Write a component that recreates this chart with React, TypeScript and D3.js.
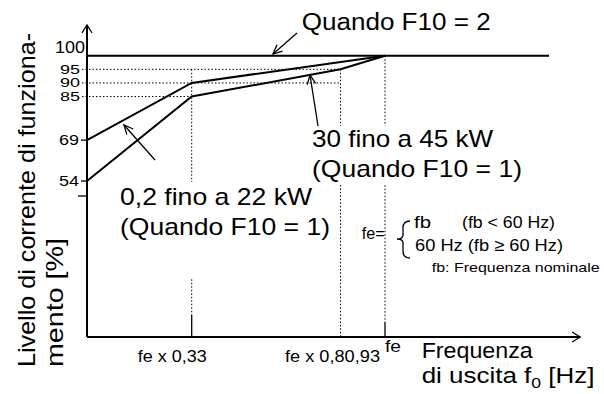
import React from "react";
import * as d3 from "d3";

// ---- data ----
// 0,2 fino a 22 kW (Quando F10 = 1)
const FREQ_SMALL = [0, 0.33, 1];
const LEVEL_SMALL = [69, 90, 100];
// 30 fino a 45 kW (Quando F10 = 1)
const FREQ_LARGE = [0, 0.33, 0.93, 1];
const LEVEL_LARGE = [54, 85, 95, 100];
// Quando F10 = 2
const FREQ_F10_2 = [0, 2];
const LEVEL_F10_2 = [100, 100];

const Y_TICKS = [100, 95, 90, 85, 69, 54];
const Y_EXTRA_TICK = 48.5;
const X_TICK_VALUES = [0.33, 0.93, 1];
const X_TICK_LABELS = ["fe x 0,33", "fe x 0,80,93", "fe"];

const W = 604;
const H = 394;
const FONT = "'Liberation Sans', Arial, Helvetica, sans-serif";

const x = d3.scaleLinear().domain([0, 0.33, 0.93, 1, 2]).range([87, 191.7, 340.5, 385, 549]);
const y = d3.scaleLinear().domain([54, 100]).range([181, 55.7]);
const AXIS_Y = 337;
const AXIS_TOP = 25;
const X_MAX = 2.19;

const line = d3
  .line<[number, number]>()
  .x((d) => x(d[0]))
  .y((d) => y(d[1]));

const zip = (a: number[], b: number[]) => a.map((v, i) => [v, b[i]] as [number, number]);

function Arrow({ x1, y1, x2, y2, head = 10 }: { x1: number; y1: number; x2: number; y2: number; head?: number }) {
  const ang = Math.atan2(y2 - y1, x2 - x1);
  const a = (25 * Math.PI) / 180;
  const p1 = [x2 - head * Math.cos(ang - a), y2 - head * Math.sin(ang - a)];
  const p2 = [x2 - head * Math.cos(ang + a), y2 - head * Math.sin(ang + a)];
  return (
    <g stroke="#000" strokeWidth={1.3} fill="none">
      <line x1={x1} y1={y1} x2={x2} y2={y2} />
      <polyline points={`${p1[0]},${p1[1]} ${x2},${y2} ${p2[0]},${p2[1]}`} />
    </g>
  );
}

function T({
  x: tx,
  y: ty,
  size,
  len,
  anchor = "start",
  children,
}: {
  x: number;
  y: number;
  size: number;
  len?: number;
  anchor?: string;
  children: React.ReactNode;
}) {
  return (
    <text
      x={tx}
      y={ty}
      fontSize={size}
      textAnchor={anchor}
      textLength={len}
      lengthAdjust={len ? "spacingAndGlyphs" : undefined}
      fill="#000"
    >
      {children}
    </text>
  );
}

export default function App() {
  const dot = { stroke: "#000", strokeWidth: 1, strokeDasharray: "1.5,2", fill: "none" } as const;
  const x0 = x(0);
  return (
    <svg
      width={W}
      height={H}
      viewBox={`0 0 ${W} ${H}`}
      style={{ position: "absolute", left: 0, top: 0, background: "#fff", fontFamily: FONT }}
    >
      <rect width={W} height={H} fill="#fff" />
      {/* dotted reference lines */}
      <line x1={x0 - 5} x2={x(0.93)} y1={y(95)} y2={y(95)} {...dot} />
      <line x1={x0 - 5} x2={x(0.93)} y1={y(90)} y2={y(90)} {...dot} />
      <line x1={x0 - 5} x2={x(0.33)} y1={y(85)} y2={y(85)} {...dot} />
      <line x1={x(0.33)} x2={x(0.33)} y1={y(95)} y2={AXIS_Y - 22} {...dot} />
      <line x1={x(0.93)} x2={x(0.93)} y1={y(95)} y2={AXIS_Y} {...dot} />
      <line x1={x(1)} x2={x(1)} y1={y(100)} y2={AXIS_Y - 15} {...dot} />

      {/* x ticks */}
      <line x1={x(0.33)} x2={x(0.33)} y1={AXIS_Y - 22} y2={AXIS_Y} stroke="#000" strokeWidth={1.3} />
      <line x1={x(1)} x2={x(1)} y1={AXIS_Y - 15} y2={AXIS_Y} stroke="#000" strokeWidth={1.3} />

      {/* curves */}
      <path d={line(zip(FREQ_F10_2, LEVEL_F10_2)) || ""} stroke="#000" strokeWidth={2} fill="none" />
      <path d={line(zip(FREQ_SMALL, LEVEL_SMALL)) || ""} stroke="#000" strokeWidth={2} fill="none" />
      <path d={line(zip(FREQ_LARGE, LEVEL_LARGE)) || ""} stroke="#000" strokeWidth={2} fill="none" />

      {/* axes */}
      <line x1={x0} x2={x0} y1={AXIS_TOP} y2={AXIS_Y} stroke="#000" strokeWidth={2} />
      <line x1={x0} x2={x(X_MAX)} y1={AXIS_Y} y2={AXIS_Y} stroke="#000" strokeWidth={2} />
      <polyline
        points={`${x0 - 5},${AXIS_TOP + 8} ${x0},${AXIS_TOP} ${x0 + 5},${AXIS_TOP + 8}`}
        stroke="#000"
        strokeWidth={1.3}
        fill="none"
      />
      <polyline
        points={`${x(X_MAX) - 8},${AXIS_Y - 5} ${x(X_MAX)},${AXIS_Y} ${x(X_MAX) - 8},${AXIS_Y + 5}`}
        stroke="#000"
        strokeWidth={1.3}
        fill="none"
      />

      {/* y ticks + labels */}
      {Y_TICKS.map((v) => {
        if (v === 100)
          return (
            <T key={v} x={x0 - 2} y={y(v) - 2.5} size={16} len={30} anchor="end">
              {v}
            </T>
          );
        if (v >= 85)
          return (
            <T key={v} x={x0 - 7} y={y(v) + 4.3} size={12} len={20} anchor="end">
              {v}
            </T>
          );
        return (
          <g key={v}>
            <line x1={x0 - 6} x2={x0} y1={y(v)} y2={y(v)} stroke="#000" strokeWidth={1.3} />
            <T x={x0 - 8} y={y(v) + 5.2} size={14.5} len={20} anchor="end">
              {v}
            </T>
          </g>
        );
      })}
      <line x1={x0 - 9} x2={x0} y1={y(Y_EXTRA_TICK)} y2={y(Y_EXTRA_TICK)} stroke="#000" strokeWidth={1.3} />

      {/* x tick labels */}
      <T x={x(X_TICK_VALUES[0]) + 15} y={362} size={16} len={69} anchor="end">
        {X_TICK_LABELS[0]}
      </T>
      <T x={x(X_TICK_VALUES[1]) + 39.5} y={362} size={16} len={95} anchor="end">
        {X_TICK_LABELS[1]}
      </T>
      <T x={x(X_TICK_VALUES[2])} y={352} size={16} len={16}>
        {X_TICK_LABELS[2]}
      </T>

      {/* axis titles */}
      <T x={421.7} y={358} size={22} len={111}>
        Frequenza
      </T>
      <text x={421.7} y={383} fontSize={22} transform="translate(421.7,383) scale(1.18,1) translate(-421.7,-383)">
        di uscita f<tspan fontSize={15} dy={5}>0</tspan>
        <tspan dy={-5}> [Hz]</tspan>
      </text>
      <g transform="translate(35,367) rotate(-90)">
        <T x={0} y={0} size={24} len={334}>
          Livello di corrente di funziona-
        </T>
      </g>
      <g transform="translate(63,367) rotate(-90)">
        <T x={0} y={0} size={24} len={129}>
          mento [%]
        </T>
      </g>

      {/* annotation boxes */}
      <rect x={296} y={126} width={230} height={59} fill="#fff" />
      <rect x={115} y={182} width={220} height={96} fill="#fff" />

      <T x={301.7} y={30} size={23} len={189}>
        Quando F10 = 2
      </T>
      <T x={312} y={146.7} size={24} len={181}>
        30 fino a 45 kW
      </T>
      <T x={312} y={177} size={24} len={210}>
        (Quando F10 = 1)
      </T>
      <T x={120} y={205} size={24} len={192}>
        0,2 fino a 22 kW
      </T>
      <T x={120} y={235} size={24} len={210}>
        (Quando F10 = 1)
      </T>

      <Arrow x1={297} y1={33} x2={273} y2={54} />
      <Arrow x1={318} y1={126} x2={310} y2={75} />
      <Arrow x1={155} y1={160} x2={124} y2={125} />

      {/* fe definition */}
      <T x={361.7} y={239} size={16} len={23}>
        fe=
      </T>
      <path
        d="M410,221 Q403,221 403,228 L403,235 Q403,239 397,239 Q403,239 403,243 L403,251 Q403,258 410,258"
        stroke="#000"
        strokeWidth={1.3}
        fill="none"
      />
      <T x={414} y={228} size={17} len={17}>
        fb
      </T>
      <T x={462} y={228} size={17} len={93}>
        (fb &lt; 60 Hz)
      </T>
      <T x={415} y={251} size={17} len={148}>
        60 Hz (fb ≥ 60 Hz)
      </T>
      <T x={431.7} y={272} size={13.5} len={168}>
        fb: Frequenza nominale
      </T>
    </svg>
  );
}
